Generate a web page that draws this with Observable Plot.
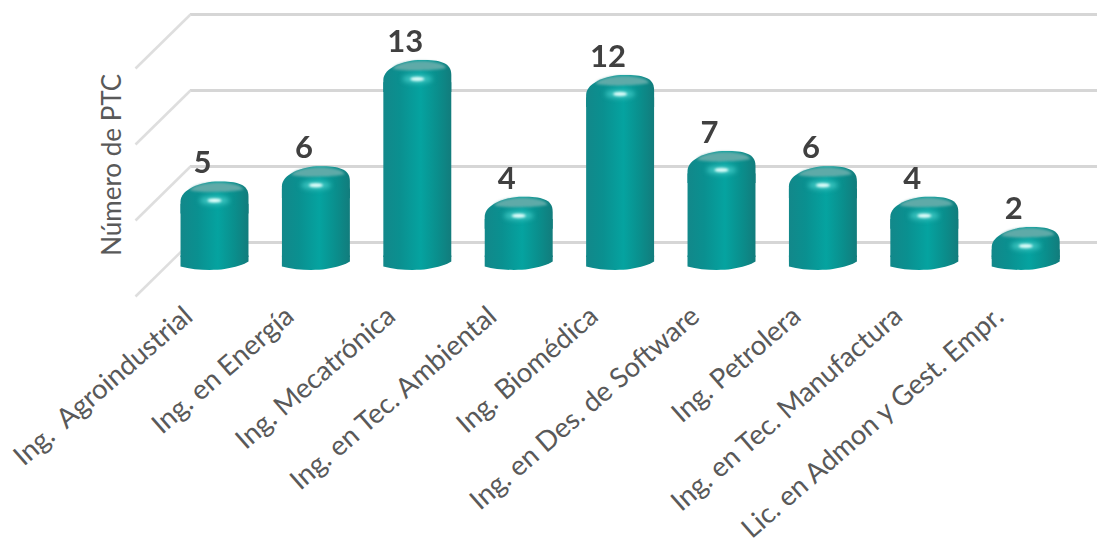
<!DOCTYPE html>
<html><head><meta charset="utf-8">
<script src="https://cdn.jsdelivr.net/npm/d3@7"></script>
<script src="https://cdn.jsdelivr.net/npm/@observablehq/plot@0.6"></script>
<style>html,body{margin:0;padding:0;background:#fff;overflow:hidden}svg{display:block;filter:blur(0.55px)}</style>
</head><body><div id="chart"></div>
<script>
const categories = ["Ing.  Agroindustrial","Ing. en Energía","Ing. Mecatrónica","Ing. en Tec. Ambiental","Ing. Biomédica","Ing. en Des. de Software","Ing. Petrolera","Ing. en Tec. Manufactura","Lic. en Admon y Gest. Empr."];
const values = [5,6,13,4,12,7,6,4,2];
const gridValues = [0,5,10,15];
const yAxisLabel = "Número de PTC";

const rows = categories.map((name,i)=>({name,i,v:values[i]}));
const barHalf = 0.335, backDepth = 0.987, frontDepth = 2.566;
const wallFront = -0.779, wallBack = -0.237, xMax = 8.708;

function shape(fn){return {draw(c,size){const k=Math.sqrt(size/Math.PI)/34;fn(c,k);}};}
const head = shape((c,k)=>{c.moveTo(-34*k,32*k);c.lineTo(-34*k,20*k);c.bezierCurveTo(-34*k,8*k,-14*k,0,4*k,0);c.bezierCurveTo(22*k,0,34*k,2*k,34*k,15*k);c.lineTo(34*k,32*k);c.closePath();});
const base = shape((c,k)=>{c.moveTo(-34*k,-2*k);c.lineTo(-34*k,9*k);c.bezierCurveTo(-20*k,13*k,0,13*k,10*k,11.5*k);c.bezierCurveTo(20*k,10*k,30*k,7*k,34*k,4*k);c.lineTo(34*k,-2*k);c.closePath();});
const lid = shape((c,k)=>{c.moveTo(-25*k,8.5*k);c.bezierCurveTo(-18*k,2*k,-4*k,1*k,4*k,1*k);c.bezierCurveTo(16*k,1*k,26*k,3*k,29*k,8*k);c.bezierCurveTo(20*k,10.5*k,-14*k,12*k,-25*k,8.5*k);c.closePath();});
function glowShape(rx,ry,cy){return shape((c,k)=>{const K=0.55;const x=rx*k,y=ry*k,o=cy*k;c.moveTo(-x,o);c.bezierCurveTo(-x,o-K*y,-K*x,o-y,0,o-y);c.bezierCurveTo(K*x,o-y,x,o-K*y,x,o);c.bezierCurveTo(x,o+K*y,K*x,o+y,0,o+y);c.bezierCurveTo(-K*x,o+y,-x,o+K*y,-x,o);c.closePath();});}

const defsMark = () => {
  const d = d3.create("svg:defs");
  const g = d.append("linearGradient").attr("id","cyl").attr("x1","0").attr("x2","1").attr("y1","0").attr("y2","0");
  [[0,"#12888a"],[0.25,"#0a9090"],[0.55,"#05a3a0"],[0.8,"#0a8e8c"],[1,"#127c7c"]].forEach(([o,c])=>g.append("stop").attr("offset",o).attr("stop-color",c));
  return d.node();
};

const plot = Plot.plot({
  width:1097,height:549,margin:0,
  x:{domain:[-2.1105,xMax],range:[0,1097],axis:null},
  y:{domain:[-19.21,16.908],range:[549,0],axis:null},
  style:{background:"#fff",fontFamily:"Lato, 'Open Sans', sans-serif"},
  marks:[
    defsMark,
    Plot.ruleY(gridValues,{y:d=>d+backDepth,x1:wallBack,x2:xMax,stroke:"#d6d6d6",strokeWidth:3}),
    Plot.link(gridValues,{x1:wallFront,x2:wallBack,y1:d=>d-frontDepth,y2:d=>d+backDepth,stroke:"#dedede",strokeWidth:2.5}),
    Plot.rect(rows,{x1:d=>d.i-barHalf,x2:d=>d.i+barHalf,y1:0,y2:d=>d.v-1.5,fill:"url(#cyl)",dx:0.5}),
    Plot.dot(rows,{x:"i",y:0,r:34,symbol:base,fill:"url(#cyl)",stroke:"none"}),
    Plot.dot(rows,{x:"i",y:"v",r:34,symbol:head,fill:"url(#cyl)",stroke:"none"}),
    Plot.dot(rows,{x:"i",y:"v",r:34,symbol:lid,fill:"#5faaa8",stroke:"none",imageFilter:"blur(1px)"}),
    Plot.dot(rows,{x:"i",y:"v",r:34,symbol:glowShape(15,4,19),fill:"#3fc6c2",stroke:"none",imageFilter:"blur(2.5px)"}),
    Plot.dot(rows,{x:"i",y:"v",r:34,symbol:glowShape(7,2,19),fill:"#e4fffc",stroke:"none",imageFilter:"blur(1px)"}),
    Plot.text(rows,{x:"i",y:"v",text:d=>String(d.v),dx:-12,dy:-18,fontSize:31,fontWeight:700,fill:"#404040"}),
    Plot.text(rows,{x:"i",y:-3.6,text:"name",rotate:-41,textAnchor:"end",dx:-26,fontSize:27.5,fill:"#595959"}),
    Plot.text([yAxisLabel],{x:-1.0,y:6.1,text:d=>d,rotate:-90,fontSize:26,fill:"#595959"})
  ]
});
document.getElementById("chart").append(plot);
</script></body></html>
